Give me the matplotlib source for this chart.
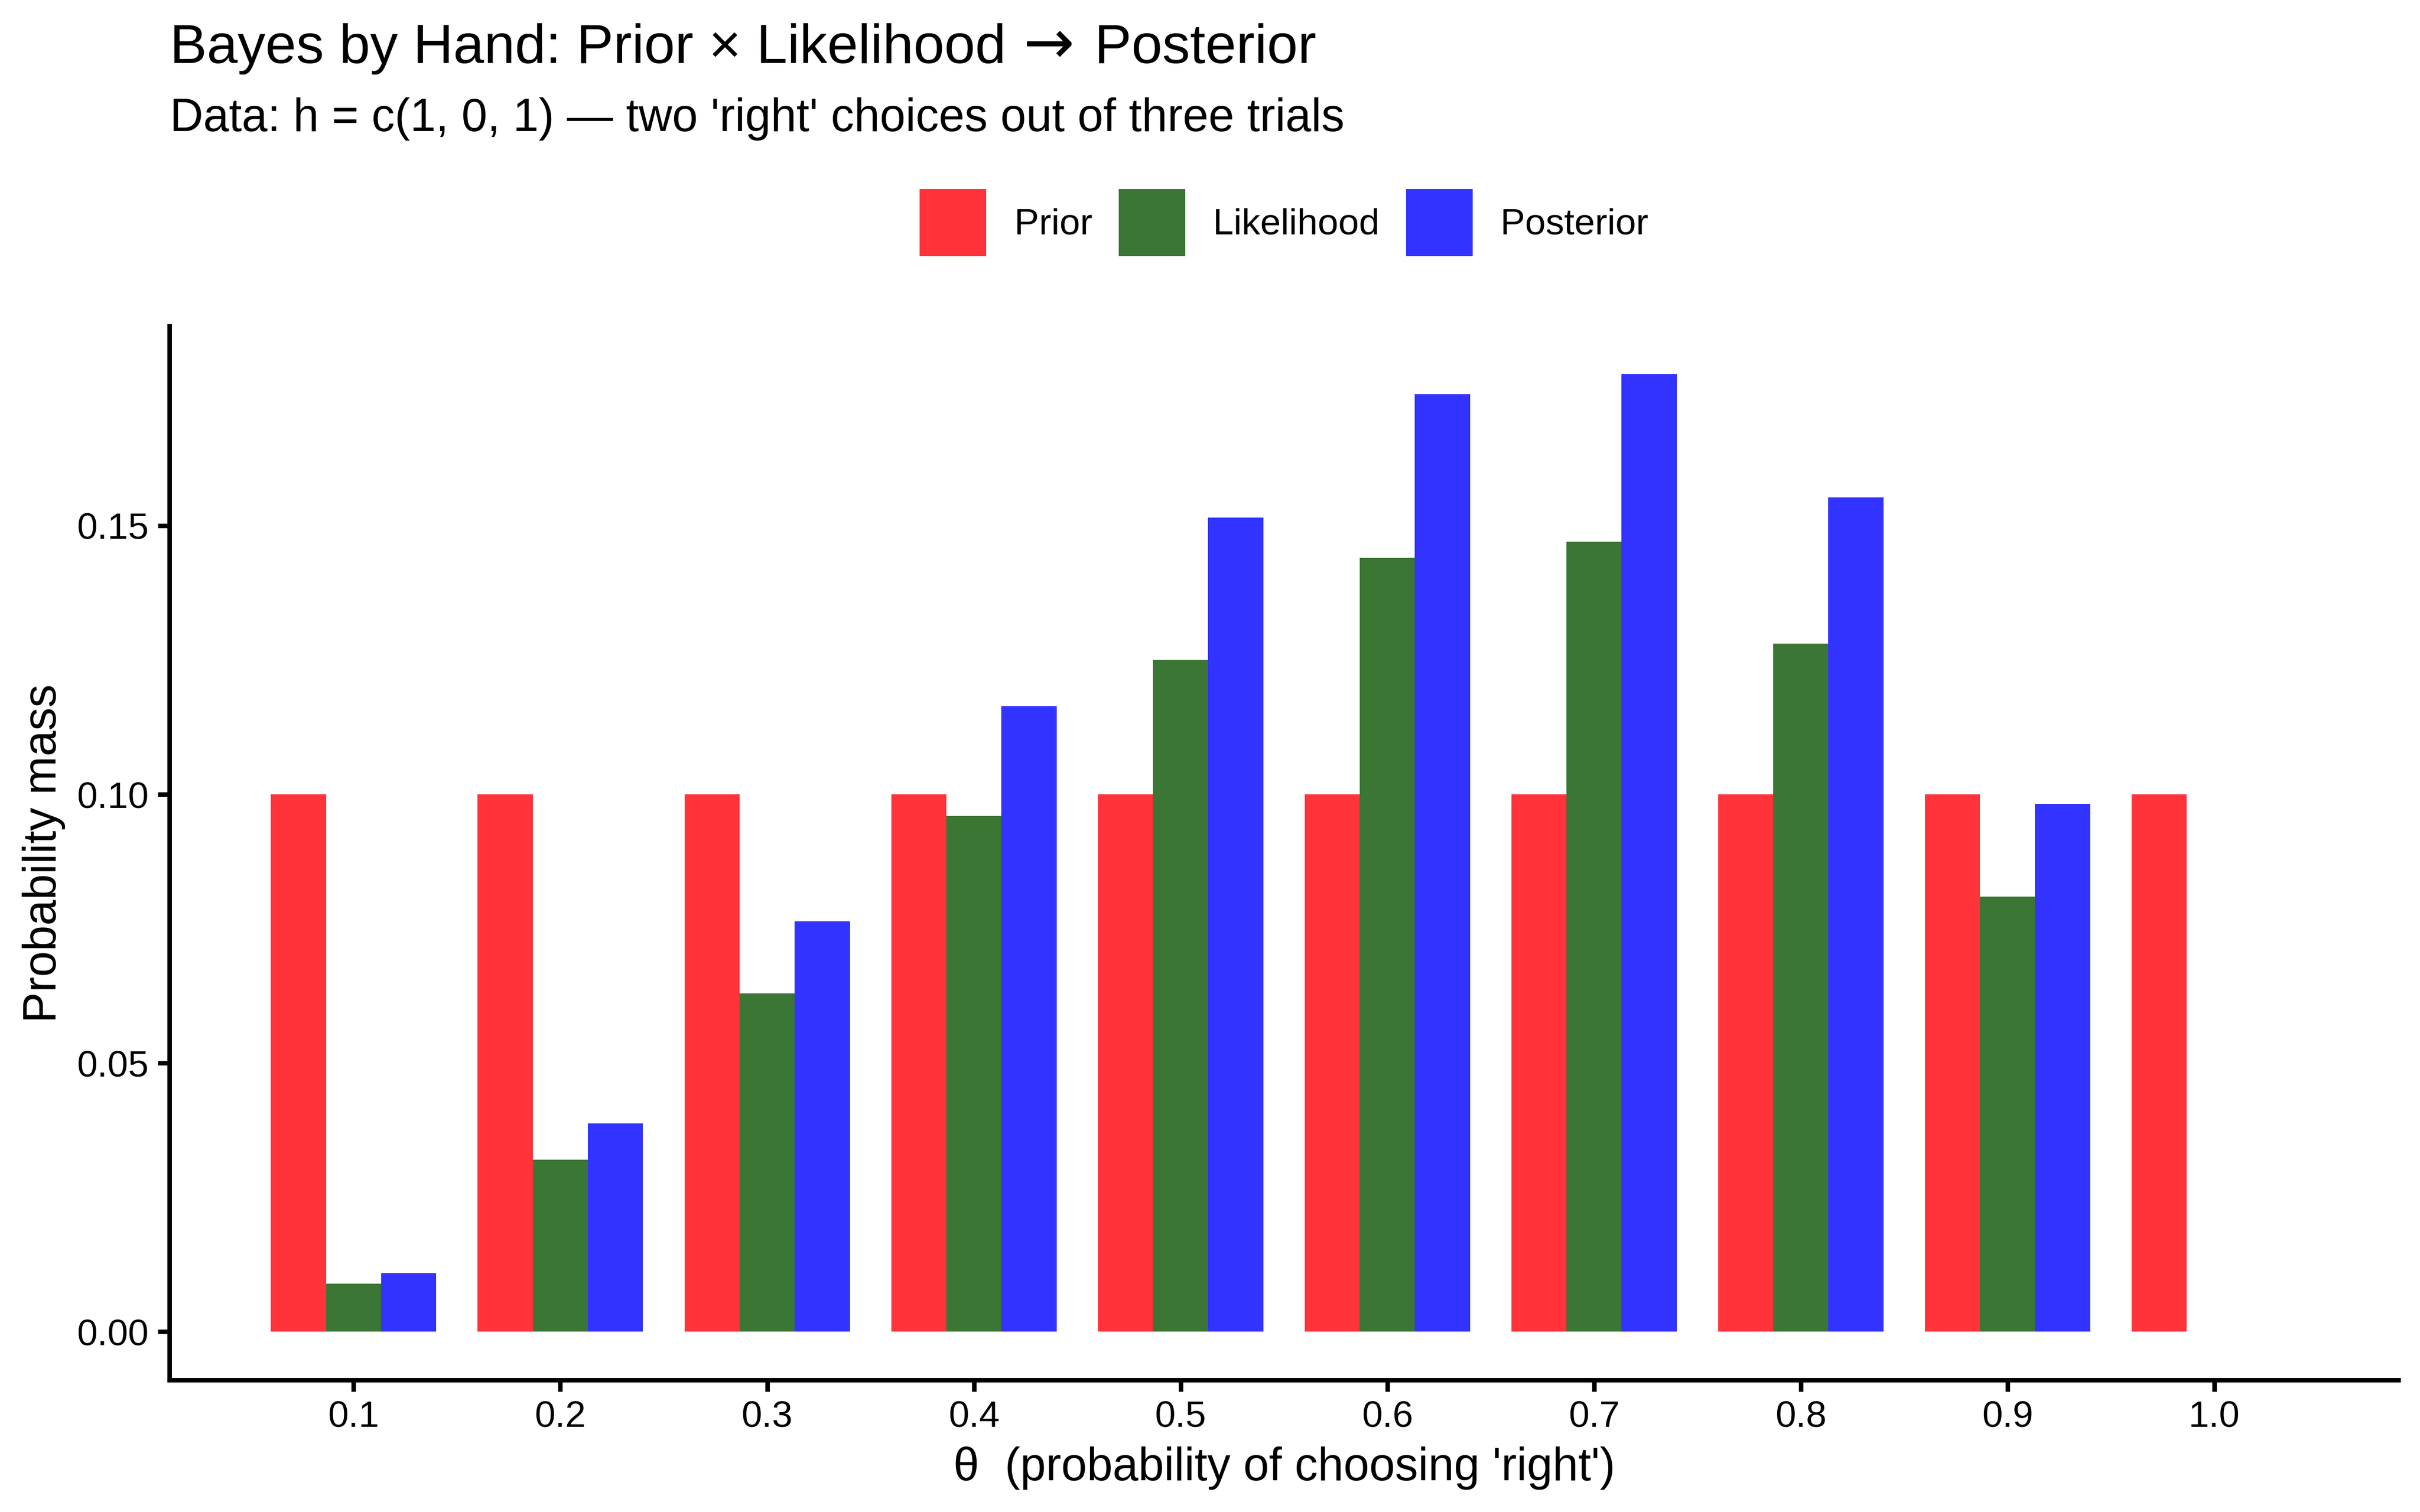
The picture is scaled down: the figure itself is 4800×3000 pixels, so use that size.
import matplotlib
matplotlib.use("Agg")
import matplotlib.pyplot as plt
import numpy as np

plt.rcParams['font.family'] = ['Liberation Sans', 'DejaVu Sans']

theta = [0.1, 0.2, 0.3, 0.4, 0.5, 0.6, 0.7, 0.8, 0.9, 1.0]
tick_labels = ["0.1", "0.2", "0.3", "0.4", "0.5", "0.6", "0.7", "0.8", "0.9", "1.0"]
prior = [0.1, 0.1, 0.1, 0.1, 0.1, 0.1, 0.1, 0.1, 0.1, 0.1]
likelihood = [0.009, 0.032, 0.063, 0.096, 0.125, 0.144, 0.147, 0.128, 0.081, 0.0]
posterior = [0.0109, 0.0388, 0.0764, 0.1164, 0.1515, 0.1745, 0.1782, 0.1552, 0.0982, 0.0]
series_names = ["Prior", "Likelihood", "Posterior"]
series_colors = ["#FF3339", "#3B7634", "#3333FF"]

title_parts = ["Bayes by Hand: Prior \u00d7 Likelihood", "\u2192", "Posterior"]
subtitle = "Data: h = c(1, 0, 1) \u2014 two 'right' choices out of three trials"
xlabel = "\u03b8  (probability of choosing 'right')"
ylabel = "Probability mass"

fig = plt.figure(figsize=(8, 5), dpi=600)
ax = fig.add_axes([0.0701, 0.0875, 0.991 - 0.0701, 0.7843 - 0.0875])

x = np.array(theta)
group_w = 0.08
bw = group_w / 3
handles = []
for i, (vals, name, col) in enumerate(zip([prior, likelihood, posterior], series_names, series_colors)):
    h = ax.bar(x + (i - 1) * bw, vals, width=bw, color=col, edgecolor='none', label=name)
    handles.append(h)

lo = x.min() - group_w / 2
hi = x.max() + group_w / 2
pad = (hi - lo) * 0.05
ax.set_xlim(lo - pad, hi + pad)
ymax = max(max(prior), max(likelihood), max(posterior))
ax.set_ylim(-0.05 * ymax, ymax * 1.05)

ax.set_xticks(theta)
ax.set_xticklabels(tick_labels)
ax.set_yticks([0.0, 0.05, 0.10, 0.15])
ax.set_yticklabels(["0.00", "0.05", "0.10", "0.15"])

for s in ['top', 'right']:
    ax.spines[s].set_visible(False)
for s in ['left', 'bottom']:
    ax.spines[s].set_linewidth(1.07)
    ax.spines[s].set_color('black')
ax.tick_params(axis='both', length=2.75, width=1.07, pad=2.2, labelsize=8.8, colors='black')

# Title in pieces so the arrow can use a larger glyph
fig.canvas.draw()
renderer = fig.canvas.get_renderer()
inv = fig.transFigure.inverted()
t1 = fig.text(0.0702, 0.9583, title_parts[0], fontsize=13.2, ha='left', va='baseline')
bb1 = t1.get_window_extent(renderer)
x_arrow = inv.transform((bb1.x1 + 85, 0))[0]
fig.text(x_arrow, 0.9583, title_parts[1], fontsize=14.5, ha='center', va='baseline',
         family=['DejaVu Sans'])
x_post = inv.transform((bb1.x1 + 176, 0))[0]
fig.text(x_post, 0.9583, title_parts[2], fontsize=13.2, ha='left', va='baseline')

fig.text(0.0702, 0.9132, subtitle, fontsize=11, ha='left', va='baseline')
fig.text(0.5306, 0.021, xlabel, fontsize=11, ha='center', va='baseline')
fig.text(0.0182, 0.4357, ylabel, fontsize=11, ha='center', va='center', rotation=90)

fig.legend(handles=handles, labels=series_names, loc='center', bbox_to_anchor=(0.5306, 0.8528),
           ncol=3, frameon=False, fontsize=8.8, handlelength=1.8, handleheight=2.41,
           handletextpad=0.76, columnspacing=0.71, borderpad=0, borderaxespad=0)

fig.savefig("out.png", dpi=600, facecolor='white')
